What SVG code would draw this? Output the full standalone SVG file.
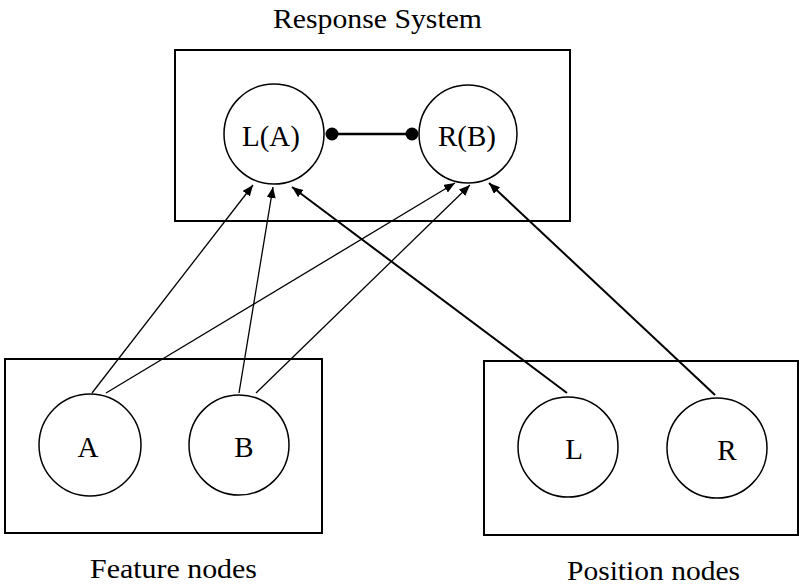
<svg xmlns="http://www.w3.org/2000/svg" width="801" height="586" viewBox="0 0 801 586">
  <style>
    .box { fill: none; stroke: #000; stroke-width: 2; }
    .node { fill: #fff; stroke: #000; stroke-width: 1.5; }
    .lbl { font-family: "Liberation Serif", "Times New Roman", serif; font-size: 29px; fill: #000; text-anchor: middle; }
    .cap { font-family: "Liberation Serif", "Times New Roman", serif; font-size: 27px; fill: #000; }
    .edge { fill: none; stroke: #000; stroke-width: 1.3; }
    .edge.heavy { stroke-width: 2; }
  </style>
  <defs>
    <marker id="arrow" markerUnits="userSpaceOnUse" markerWidth="12" markerHeight="10" refX="11" refY="4.5" orient="auto">
      <path d="M0,0 L11,4.5 L0,9 Z" fill="#000"/>
    </marker>
  </defs>

  <rect width="801" height="586" fill="#fff"/>

  <!-- group frames -->
  <g id="response-system">
    <rect class="box" x="175" y="50" width="395" height="171"/>
    <text class="cap" x="273" y="28" textLength="209" lengthAdjust="spacingAndGlyphs">Response System</text>
  </g>
  <g id="feature-nodes">
    <rect class="box" x="5" y="359" width="317" height="174"/>
    <text class="cap" x="90" y="578" textLength="167" lengthAdjust="spacingAndGlyphs">Feature nodes</text>
  </g>
  <g id="position-nodes">
    <rect class="box" x="484" y="361" width="314" height="174"/>
    <text class="cap" x="567" y="580" textLength="173" lengthAdjust="spacingAndGlyphs">Position nodes</text>
  </g>

  <!-- connectors -->
  <g id="connectors">
    <line class="edge" x1="92" y1="393" x2="253" y2="185" marker-end="url(#arrow)"/>
    <line class="edge" x1="106" y1="393" x2="455" y2="183" marker-end="url(#arrow)"/>
    <line class="edge" x1="239" y1="393" x2="273" y2="187" marker-end="url(#arrow)"/>
    <line class="edge" x1="256" y1="393" x2="470" y2="185" marker-end="url(#arrow)"/>
    <line class="edge heavy" x1="567" y1="393" x2="292" y2="187" marker-end="url(#arrow)"/>
    <line class="edge heavy" x1="715" y1="395" x2="489" y2="183" marker-end="url(#arrow)"/>
    <!-- mutual inhibition link between response nodes -->
    <line x1="332" y1="134" x2="412" y2="134" stroke="#000" stroke-width="2.5"/>
    <circle cx="332" cy="134" r="6.5" fill="#000"/>
    <circle cx="412" cy="134" r="6.5" fill="#000"/>
  </g>

  <!-- nodes -->
  <g id="node-LA">
    <circle class="node" cx="274" cy="134" r="50"/>
    <text class="lbl" x="271" y="146">L(A)</text>
  </g>
  <g id="node-RB">
    <circle class="node" cx="468" cy="134" r="49"/>
    <text class="lbl" x="467" y="146">R(B)</text>
  </g>
  <g id="node-A">
    <circle class="node" cx="90" cy="445" r="51"/>
    <text class="lbl" x="88" y="457">A</text>
  </g>
  <g id="node-B">
    <circle class="node" cx="239" cy="445" r="50"/>
    <text class="lbl" x="244" y="457">B</text>
  </g>
  <g id="node-L">
    <circle class="node" cx="568" cy="447" r="50"/>
    <text class="lbl" x="574" y="459">L</text>
  </g>
  <g id="node-R">
    <circle class="node" cx="717" cy="448" r="50"/>
    <text class="lbl" x="727" y="460">R</text>
  </g>
</svg>
